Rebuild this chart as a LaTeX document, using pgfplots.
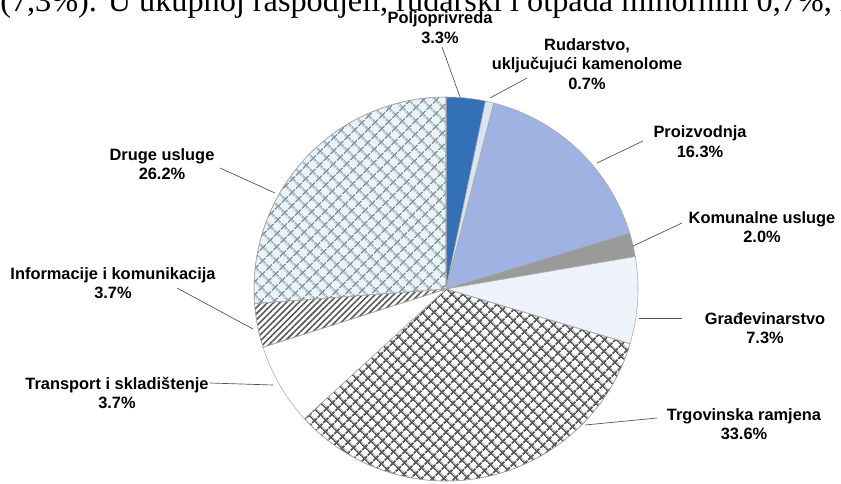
\documentclass[border=0pt]{standalone}
\usepackage{pgfplots}
\pgfplotsset{compat=1.18}
\usepackage{fontspec}
\setmainfont{Liberation Serif}
\newfontfamily\labfont{Liberation Sans}
\usetikzlibrary{patterns.meta}

\definecolor{cPolj}{HTML}{3470B5}
\definecolor{cRud}{HTML}{D8E4F2}
\definecolor{cProiz}{HTML}{A0B2E2}
\definecolor{cKom}{HTML}{9A9A9A}
\definecolor{cGrad}{HTML}{EEF2FB}
\definecolor{cDruge}{HTML}{E8F3FA}
\definecolor{cDrugeLine}{HTML}{8A949C}
\definecolor{cTrgLine}{HTML}{5A5A5A}
\definecolor{cEdge}{HTML}{A8A8A8}
\definecolor{cLead}{HTML}{505050}

\tikzset{lab/.style={font=\labfont\bfseries\fontsize{12.3}{14.6}\selectfont, align=center, inner sep=0pt, text=black}}

\newcommand\angA{90}
\newcommand\pieslice[2]{%
  \pgfmathsetmacro\angB{\angA-3.6*#1}%
  \edef\temp{\noexpand\addplot[draw=cEdge, line width=0.4pt, \unexpanded{#2}, domain=\angB:\angA, samples=80, variable=\noexpand\t] ({446+192*cos(\noexpand\t)},{289-192*sin(\noexpand\t)}) -- (axis cs:446,289) -- cycle;}%
  \temp
  \xdef\angA{\angB}%
}

\begin{document}
\begin{tikzpicture}
\path[use as bounding box] (0,0) rectangle (630.75pt,362.25pt);
\clip (0,0) rectangle (630.75pt,362.25pt);
\begin{axis}[at={(0,0)}, anchor=south west, width=630.75pt, height=362.25pt, scale only axis,
  xmin=0, xmax=841, ymin=0, ymax=483, y dir=reverse, hide axis, clip=false]

% pie slices, clockwise from top (percent values)
\pieslice{3.3}{fill=cPolj}
\pieslice{0.7}{fill=cRud}
\pieslice{16.3}{fill=cProiz}
\pieslice{2.0}{fill=cKom}
\pieslice{7.3}{fill=cGrad}
\pieslice{33.6}{fill=white, postaction={pattern={Hatch[angle=45,distance=6.5pt,line width=1.6pt]}, pattern color=cTrgLine}}
\pieslice{6.9}{fill=white}
\pieslice{3.7}{fill=white, postaction={pattern={Lines[angle=45,distance=3.3pt,line width=1.2pt]}, pattern color=cTrgLine}}
\pieslice{26.2}{fill=cDruge, postaction={pattern={Hatch[angle=45,distance=6.9pt,line width=1.2pt]}, pattern color=cDrugeLine}}

% leader lines
\addplot[cLead, line width=0.5pt] coordinates {(442,47) (460,97)};
\addplot[cLead, line width=0.5pt] coordinates {(527,78) (490,98)};
\addplot[cLead, line width=0.5pt] coordinates {(643,141) (597,163)};
\addplot[cLead, line width=0.5pt] coordinates {(682,223) (633,246)};
\addplot[cLead, line width=0.5pt] coordinates {(682,318) (639,318)};
\addplot[cLead, line width=0.5pt] coordinates {(657,418) (585,425)};
\addplot[cLead, line width=0.5pt] coordinates {(210,383) (273,385)};
\addplot[cLead, line width=0.5pt] coordinates {(177,288) (253,329)};
\addplot[cLead, line width=0.5pt] coordinates {(220,168) (275,193)};

% labels
\node[lab] at (axis cs:440,27.5) {Poljoprivreda\\3.3\%};
\node[lab] at (axis cs:587,64) {Rudarstvo,\\uključujući kamenolome\\0.7\%};
\node[lab] at (axis cs:700,141.5) {Proizvodnja\\16.3\%};
\node[lab] at (axis cs:762,227) {Komunalne usluge\\2.0\%};
\node[lab] at (axis cs:765,328) {Građevinarstvo\\7.3\%};
\node[lab] at (axis cs:744,424) {Trgovinska ramjena\\33.6\%};
\node[lab] at (axis cs:117,393) {Transport i skladištenje\\3.7\%};
\node[lab] at (axis cs:113,283) {Informacije i komunikacija\\3.7\%};
\node[lab] at (axis cs:162,164) {Druge usluge\\26.2\%};

% cut-off header text
\node[anchor=base west, inner sep=0pt, font=\fontsize{24.2}{24.2}\selectfont] at (axis cs:0,12) {(7,3\%). U ukupnoj raspodjeli, rudarski i otpada minornim 0,7\%, i};
\end{axis}
\end{tikzpicture}
\end{document}
